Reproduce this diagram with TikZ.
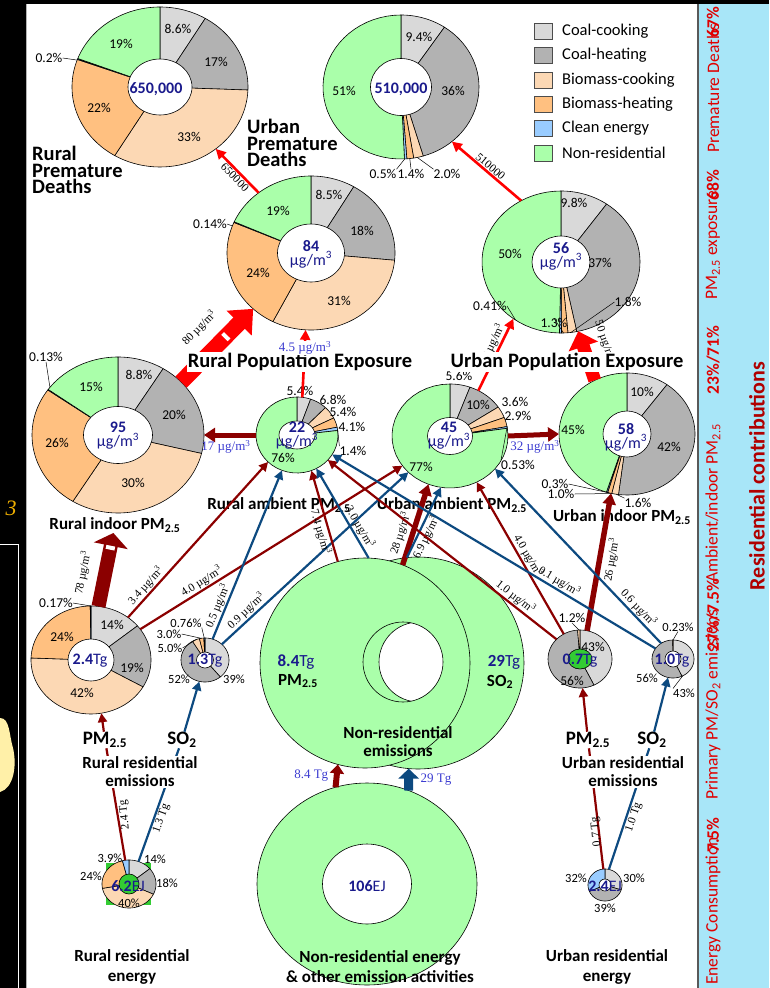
\documentclass[tikz,border=0pt]{standalone}
\usepackage{fontspec}
\setmainfont{Carlito}
\newfontfamily\timesfont{Liberation Serif}
\usepackage{xcolor}
\usepackage{tikz}
\usetikzlibrary{arrows.meta,positioning,shapes.geometric}
\definecolor{ccoalcook}{HTML}{D9D9D9}
\definecolor{ccoalheat}{HTML}{B2B2B2}
\definecolor{cbiocook}{HTML}{FCD8B4}
\definecolor{cbioheat}{HTML}{FFC080}
\definecolor{cclean}{HTML}{99CCFF}
\definecolor{cnonres}{HTML}{AAFFAA}
\definecolor{cgreendot}{HTML}{33CC33}
\definecolor{deepred}{HTML}{8B0000}
\definecolor{deepblue}{HTML}{0D4A80}
\definecolor{cnavy}{HTML}{1A1A8C}
\definecolor{cflowblue}{HTML}{3B3BD0}
\definecolor{cpanel}{HTML}{A8E6F8}
\definecolor{cside}{HTML}{E00000}
\definecolor{cresid}{HTML}{B00000}
\definecolor{cblob}{HTML}{FFF0A8}
\definecolor{cpagenum}{HTML}{F0B000}
\tikzset{
  ring/.style={ellipse, draw=none, inner sep=0pt, outer sep=0pt},
  slice/.style={draw=black, line width=0.6pt, line join=round},
  pct/.style={font=\fontsize{13.5}{13.5}\selectfont, inner sep=0pt},
  pcts/.style={font=\fontsize{12.5}{12.5}\selectfont, inner sep=0pt},
  lead/.style={draw=black, line width=0.5pt},
  val/.style={text=cnavy, font=\fontsize{16}{14}\selectfont, align=center, inner sep=0pt},
  ttl/.style={font=\bfseries\fontsize{20.5}{16.7}\selectfont, align=left, inner sep=0pt},
  sub/.style={font=\bfseries\fontsize{17}{18}\selectfont, align=center, inner sep=0.5pt},
  legtxt/.style={font=\fontsize{16.5}{16.5}\selectfont, inner sep=0pt},
  flowlab/.style={font=\timesfont\fontsize{11.5}{11.5}\selectfont, inner sep=1pt, sloped},
  bluelab/.style={font=\timesfont\fontsize{13}{13}\selectfont, text=cflowblue, inner sep=0.5pt},
  pmline/.style={draw=deepred, line width=2.2pt},
  soline/.style={draw=deepblue, line width=2.2pt},
  pmflow/.style={pmline, -{Triangle[length=9pt,width=9pt]}},
  soflow/.style={soline, -{Triangle[length=9pt,width=9pt]}},
  expflow/.style={draw=red, line width=2.6pt, -{Triangle[length=10pt,width=10pt]}},
  slit/.style={fill=white, inner sep=0pt, minimum width=4pt, minimum height=9pt},
  sidetxt/.style={text=cside, font=\fontsize{17.5}{17.5}\selectfont, inner sep=0pt},
  sidebold/.style={text=cside, font=\bfseries\fontsize{17.5}{17.5}\selectfont, inner sep=0pt}
}
% donut: [inner fill] name, cx, cy, rx, ry, inner rx, inner ry, slices pct/colour
\newcommand{\donut}[9][white]{%
  \gdef\dcum{0}%
  \foreach \pval/\pcol in {#9}{%
    \pgfmathsetmacro\da{-90+3.6*\dcum}%
    \pgfmathsetmacro\db{-90+3.6*(\dcum+\pval)}%
    \filldraw[slice, fill=\pcol] (#3,#4) -- plot[domain=\da:\db, samples=36]
      ({#3+#5*cos(\x)},{#4+#6*sin(\x)}) -- cycle;
    \pgfmathsetmacro\dnew{\dcum+\pval}%
    \global\let\dcum\dnew
  }%
  \filldraw[slice, fill=#1] (#3,#4) ellipse[x radius=#7, y radius=#8];
  \node[ring, minimum width={2*#5}, minimum height={2*#6}] (#2) at (#3,#4) {};
}

\begin{document}
\begin{tikzpicture}[x=1pt, y=-1pt]
\useasboundingbox (0,0) rectangle (769,988);

% page edges
\fill[black] (0,0) rectangle (769,4);
\fill[black] (0,0) rectangle (26,988);
\draw[gray!60, line width=0.8pt] (26.5,4) -- (26.5,988);
\draw[white, line width=1pt] (-1,544) -- (18.5,544) -- (18.5,988);
\fill[cblob] (0,718) .. controls (10,718) and (9,735) .. (13,748) .. controls (17,765) and (14,788) .. (0,792) -- cycle;
\node[text=cpagenum, font=\timesfont\itshape\fontsize{22}{22}\selectfont] (pagenum) at (11,508) {3};

% side panel
\fill[cpanel] (698,4) rectangle (769,988);
\draw[black!65, line width=1.5pt] (698,4) -- (698,988);
\node[sidetxt, rotate=90, anchor=west] (sdeath) at (713,153) {Premature Deaths};
\node[sidebold, rotate=90] (sdeathp) at (713,22) {67\%};
\node[sidetxt, rotate=90, anchor=west] (sexp) at (713,300) {PM\textsubscript{2.5} exposure};
\node[sidebold, rotate=90] (sexpp) at (713,185) {68\%};
\node[sidetxt, rotate=90, anchor=west] (samb) at (713,583) {Ambient/indoor PM\textsubscript{2.5}};
\node[sidebold, rotate=90] (sambp) at (713,360) {23\%/71\%};
\node[sidetxt, rotate=90, anchor=west] (semi) at (713,800) {Primary PM/SO\textsubscript{2} emissions};
\node[sidebold, rotate=90] (semip) at (713,615) {27\%/7.5\%};
\node[sidetxt, rotate=90, anchor=west] (seng) at (713,985) {Energy Consumption};
\node[sidebold, rotate=90] (sengp) at (713,835) {7.5\%};
\node[text=cresid, font=\bfseries\fontsize{22}{22}\selectfont, rotate=90] (resid) at (757,476) {Residential contributions};

% legend
\foreach \lc/\lt [count=\i] in {ccoalcook/Coal-cooking, ccoalheat/Coal-heating, cbiocook/Biomass-cooking,
    cbioheat/Biomass-heating, cclean/Clean energy, cnonres/Non-residential}{
  \filldraw[fill=\lc, draw=black!70, line width=0.6pt] (534,{23+24.4*(\i-1)}) rectangle ++(18,16);
  \node[legtxt, anchor=west] (leg\i) at (562,{31+24.4*(\i-1)}) {\lt};
}

% non-residential rings
\filldraw[slice, fill=cnonres, even odd rule] (367,884) ellipse[x radius=110, y radius=101] (367,884) ellipse[x radius=44.5, y radius=40];
\node[ring, minimum width=220pt, minimum height=202pt] (neng) at (367,884) {};
\filldraw[slice, fill=cnonres, even odd rule] (418,663) circle[radius=106] (419,662) circle[radius=40];
\node[ring, minimum width=212pt, minimum height=212pt] (nrso) at (418,663) {};
\filldraw[slice, fill=cnonres, even odd rule] (365,663) circle[radius=105] (403,662) circle[radius=40];
\node[ring, minimum width=210pt, minimum height=210pt] (nrpm) at (365,663) {};

% donuts
\donut{rdeath}{160}{87}{88}{80}{32}{28}{8.6/ccoalcook, 17/ccoalheat, 33/cbiocook, 22/cbioheat, 0.2/cclean, 19.2/cnonres}
\donut{udeath}{401}{87}{78}{72}{30.5}{28.5}{9.4/ccoalcook, 36/ccoalheat, 2.0/cbiocook, 1.4/cbioheat, 0.5/cclean, 50.7/cnonres}
\donut{rexp}{311}{253}{84}{77}{33.5}{29}{8.5/ccoalcook, 18/ccoalheat, 31/cbiocook, 24/cbioheat, 0.14/cclean, 18.36/cnonres}
\donut{uexp}{561}{262}{79}{71}{29}{26}{9.8/ccoalcook, 37/ccoalheat, 1.8/cbiocook, 1.3/cbioheat, 0.41/cclean, 49.69/cnonres}
\donut{rind}{118}{435}{86}{78}{34.5}{28.5}{8.8/ccoalcook, 20/ccoalheat, 30/cbiocook, 26/cbioheat, 0.13/cclean, 15.07/cnonres}
\donut{ramb}{297}{435}{41}{38}{18}{14}{5.4/ccoalcook, 6.8/ccoalheat, 5.4/cbiocook, 4.1/cbioheat, 1.4/cclean, 76.9/cnonres}
\donut{uamb}{450}{436}{58}{52}{22.5}{18.5}{5.6/ccoalcook, 10/ccoalheat, 3.6/cbiocook, 2.9/cbioheat, 0.53/cclean, 77.37/cnonres}
\donut{uind}{627}{434}{68}{61}{24}{23}{10/ccoalcook, 42/ccoalheat, 1.6/cbiocook, 1.0/cbioheat, 0.3/cclean, 45.1/cnonres}
\donut{rpm}{91}{660}{60}{54}{23}{21}{14.1/ccoalcook, 19.2/ccoalheat, 42.3/cbiocook, 24.2/cbioheat, 0.2/cclean}
\donut{rso}{205}{660}{24}{22}{8.5}{8}{39/ccoalcook, 52.24/ccoalheat, 5.0/cbiocook, 3.0/cbioheat, 0.76/cclean}
\donut[cgreendot]{upm}{580}{659}{32}{29}{12}{10}{42.8/ccoalcook, 56/ccoalheat, 1.2/cbiocook}
\donut{uso}{673}{659}{21}{19}{8}{8}{43/ccoalcook, 56.77/ccoalheat, 0.23/cbiocook}
\fill[cgreendot] (106,863) rectangle (151,905);
\donut[cgreendot]{reng}{129}{884}{27}{24}{10}{10}{14/ccoalcook, 18/ccoalheat, 40.1/cbiocook, 24/cbioheat, 3.9/cclean}
\donut{ueng}{605}{885}{17}{16}{6}{6}{30/ccoalcook, 38.5/ccoalheat, 31.5/cclean}

% percentages
\node[pct] (p1) at (178,29) {8.6\%};
\node[pct] (p2) at (216,62) {17\%};
\node[pct] (p3) at (189,137) {33\%};
\node[pct] (p4) at (99,108) {22\%};
\node[pct] (p5) at (121,44) {19\%};
\node[pct] (p6) at (49,58) {0.2\%};
\draw[lead] (p6.east) -- (rdeath.162);
\node[pct] (p7) at (419,37) {9.4\%};
\node[pct] (p8) at (453,91) {36\%};
\node[pct] (p9) at (344,91) {51\%};
\node[pct] (p10) at (383,174) {0.5\%};
\node[pct] (p11) at (411,174) {1.4\%};
\node[pct] (p12) at (447,174) {2.0\%};
\draw[lead] (p10.north east) -- (udeath.-87);
\draw[lead] (p11.north) -- (udeath.-83);
\draw[lead] (p12.north west) -- (udeath.-77);
\node[pct] (p13) at (329,195) {8.5\%};
\node[pct] (p14) at (362,231) {18\%};
\node[pct] (p15) at (339,301) {31\%};
\node[pct] (p16) at (258,273) {24\%};
\node[pct] (p17) at (278,211) {19\%};
\node[pct] (p18) at (210,224) {0.14\%};
\draw[lead] (p18.east) -- (rexp.161);
\node[pct] (p19) at (574,203) {9.8\%};
\node[pct] (p20) at (600,263) {37\%};
\node[pct] (p21) at (510,254) {50\%};
\node[pct] (p22) at (628,302) {1.8\%};
\node[pct] (p23) at (554,323) {1.3\%};
\node[pct] (p24) at (490,306) {0.41\%};
\draw[lead] (p22.west) -- (uexp.-82);
\draw[lead] (p23.north) -- (uexp.-88);
\draw[lead] (p24.east) -- (uexp.-128);
\node[pct] (p25) at (139,375) {8.8\%};
\node[pct] (p26) at (174,415) {20\%};
\node[pct] (p27) at (133,483) {30\%};
\node[pct] (p28) at (57,443) {26\%};
\node[pct] (p29) at (91,387) {15\%};
\node[pct] (p30) at (46,357) {0.13\%};
\draw[lead] (p30.south) -- (rind.145);
\node[pct] (p31) at (300,391) {5.4\%};
\node[pct] (p32) at (333,400) {6.8\%};
\node[pct] (p33) at (343,412) {5.4\%};
\node[pct] (p34) at (352,427) {4.1\%};
\node[pct] (p35) at (353,451) {1.4\%};
\node[pct] (p36) at (283,458) {76\%};
\draw[lead] (p35.north west) -- (ramb.8);
\node[pct] (p37) at (459,376) {5.6\%};
\node[pct] (p38) at (478,405) {10\%};
\node[pct] (p39) at (515,402) {3.6\%};
\node[pct] (p40) at (518,416) {2.9\%};
\node[pct] (p41) at (518,465) {0.53\%};
\node[pct] (p42) at (421,467) {77\%};
\draw[lead] (p41.north west) -- (uamb.9);
\node[pct] (p43) at (642,392) {10\%};
\node[pct] (p44) at (669,447) {42\%};
\node[pct] (p45) at (573,430) {45\%};
\node[pct] (p46) at (555,484) {0.3\%};
\node[pct] (p47) at (561,494) {1.0\%};
\node[pct] (p48) at (638,503) {1.6\%};
\draw[lead] (p46.east) -- (uind.-107);
\draw[lead] (p47.east) -- (uind.-104);
\draw[lead] (p48.north west) -- (uind.-100);
\node[pct] (p49) at (112,625) {14\%};
\node[pct] (p50) at (132,668) {19\%};
\node[pct] (p51) at (82,693) {42\%};
\node[pct] (p52) at (62,637) {24\%};
\node[pct] (p53) at (56,603) {0.17\%};
\draw[lead] (p53.east) -- (rpm.90);
\node[pcts] (p54) at (186,623) {0.76\%};
\node[pcts] (p55) at (169,634) {3.0\%};
\node[pcts] (p56) at (170,648) {5.0\%};
\node[pcts] (p57) at (179,679) {52\%};
\node[pcts] (p58) at (234,679) {39\%};
\draw[lead] (p54.south east) -- (rso.92);
\draw[lead] (p55.east) -- (rso.100);
\draw[lead] (p56.east) -- (rso.113);
\node[pct] (p59) at (572,618) {1.2\%};
\node[pct] (p60) at (593,647) {43\%};
\node[pct] (p61) at (572,681) {56\%};
\draw[lead] (p59.south) -- (upm.92);
\node[pcts] (p62) at (678,627) {0.23\%};
\node[pcts] (p63) at (647,678) {56\%};
\node[pcts] (p64) at (684,693) {43\%};
\draw[lead] (p62.south) -- (uso.90);
\draw[lead] (p64.north west) -- (uso.-60);
\node[pcts] (p65) at (110,858) {3.9\%};
\node[pcts] (p66) at (155,859) {14\%};
\node[pcts] (p67) at (91,876) {24\%};
\node[pcts] (p68) at (167,883) {18\%};
\node[pcts] (p69) at (129,903) {40\%};
\node[pcts] (p70) at (576,878) {32\%};
\node[pcts] (p71) at (634,878) {30\%};
\node[pcts] (p72) at (605,908) {39\%};

% values in the centres
\node[val] (vrdeath) at (156,89) {\textbf{650,000}};
\node[val] (vudeath) at (401,89) {\textbf{510,000}};
\node[val] (vrexp) at (311,254) {\textbf{84}\\µg/m\textsuperscript{3}};
\node[val] (vuexp) at (561,256) {\textbf{56}\\µg/m\textsuperscript{3}};
\node[val] (vrind) at (118,436) {\textbf{95}\\µg/m\textsuperscript{3}};
\node[val] (vramb) at (297,436) {\textbf{22}\\µg/m\textsuperscript{3}};
\node[val] (vuamb) at (449,436) {\textbf{45}\\µg/m\textsuperscript{3}};
\node[val] (vuind) at (626,437) {\textbf{58}\\µg/m\textsuperscript{3}};
\node[val] (vrpm) at (90,661) {\textbf{2.4}Tg};
\node[val] (vrso) at (205,661) {\textbf{1.3}Tg};
\node[val] (vupm) at (580,661) {\textbf{0.7}Tg};
\node[val] (vuso) at (672,661) {\textbf{1.0}Tg};
\node[val] (vreng) at (128,886) {\textbf{6.2}EJ};
\node[val] (vueng) at (605,886) {\textbf{2.4}EJ};
\node[val] (vneng) at (367,886) {\textbf{106}EJ};
\node[val, font=\fontsize{17}{17}\selectfont] (vnrpm) at (296,662) {\textbf{8.4}Tg};
\node[sub] (tnrpm) at (298,681) {PM\textsubscript{2.5}};
\node[val, font=\fontsize{17}{17}\selectfont] (vnrso) at (504,662) {\textbf{29}Tg};
\node[sub] (tnrso) at (500,682) {SO\textsubscript{2}};
\node[sub, align=center] (nremis) at (398,742) {Non-residential\\emissions};

% titles of the middle row
\node[sub] (tramb) at (279,505) {Rural ambient PM\textsubscript{2.5}};
\node[sub] (tuamb) at (452,505) {Urban ambient PM\textsubscript{2.5}};
\node[sub] (trind) at (115,525) {Rural indoor PM\textsubscript{2.5}};
\node[sub] (tuind) at (622,517) {Urban indoor PM\textsubscript{2.5}};

% primary emissions -> ambient
\draw[pmflow] (rpm.49) -- (ramb.-137) node[flowlab, pos=0.17, above] (l34) {3.4 µg/m\textsuperscript{3}};
\draw[pmflow] (rpm.32) -- (uamb.-148) node[flowlab, pos=0.25, above] (l40r) {4.0 µg/m\textsuperscript{3}};
\draw[soflow] (rso.70) -- (ramb.-113) node[flowlab, pos=0.18, above] (l05) {0.5 µg/m\textsuperscript{3}};
\draw[soflow] (rso.43) -- (uamb.-139) node[flowlab, pos=0.16, above] (l09) {0.9 µg/m\textsuperscript{3}};
\draw[pmflow] (nrpm.105) -- (ramb.-68) node[flowlab, pos=0.35, below] (l74) {7.4 µg/m\textsuperscript{3}};
\draw[soflow] (nrpm.88) -- (ramb.-60) node[flowlab, pos=0.3, above] (l30) {3.0 µg/m\textsuperscript{3}};
\draw[pmflow, line width=5.5pt, -{Triangle[length=11pt,width=13pt]}] (nrpm.69) -- (uamb.-114) node[flowlab, pos=0.35, above=2pt] (l28) {28 µg/m\textsuperscript{3}};
\draw[soflow] (nrso.96) -- (uamb.-100) node[flowlab, pos=0.34, below] (l69) {6.9 µg/m\textsuperscript{3}};
\draw[pmflow] (upm.140) -- (ramb.-39) node[flowlab, pos=0.2, above] (l10) {1.0 µg/m\textsuperscript{3}};
\draw[pmflow] (upm.123) -- (uamb.-60) node[flowlab, pos=0.49, above] (l40u) {4.0 µg/m\textsuperscript{3}};
\draw[pmflow, line width=5.5pt, -{Triangle[length=11pt,width=13pt]}] (upm.76) -- (uind.-105) node[flowlab, pos=0.53, below=2pt] (l26) {26 µg/m\textsuperscript{3}};
\draw[soflow] (uso.149) -- (ramb.-29) node[flowlab, pos=0.31, above] (l01) {0.1 µg/m\textsuperscript{3}};
\draw[soflow] (uso.127) -- (uamb.-36) node[flowlab, pos=0.17, above] (l06) {0.6 µg/m\textsuperscript{3}};

% ambient -> indoor
\draw[pmflow, line width=5pt, -{Triangle[length=11pt,width=14pt]}] (ramb.180) -- (rind.0);
\node[bluelab] (l17) at (226,447) {17 µg/m\textsuperscript{3}};
\draw[pmflow, line width=5pt, -{Triangle[length=11pt,width=14pt]}] (uamb.0) -- (uind.180);
\node[bluelab] (l32) at (535,447) {32 µg/m\textsuperscript{3}};
\draw[draw=deepred, line width=14pt, -{Triangle[length=13pt,width=34pt]}] (rpm.82) -- (trind)
  node[slit, pos=0.8, sloped] (slitr) {} node[flowlab, pos=0.4, above=8pt] (l78) {78 µg/m\textsuperscript{3}};

% exposure and deaths
\draw[expflow] (ramb.82) -- (rexp.-94);
\draw[expflow] (uamb.58) -- (uexp.-130) node[flowlab, pos=0.58, above] (l60) {6.0 µg/m\textsuperscript{3}};
\draw[draw=red, line width=16pt, -{Triangle[length=20pt,width=34pt]}] (rind.40) -- (rexp.-136)
  node[slit, pos=0.62, sloped] (slitx) {} node[flowlab, pos=0.5, above=10pt] (l80) {80 µg/m\textsuperscript{3}};
\draw[draw=red, line width=13pt, -{Triangle[length=16pt,width=30pt]}] (uind.121) -- (uexp.-76)
  node[flowlab, pos=0.65, above=9pt] (l50) {50 µg/m\textsuperscript{3}};
\draw[expflow] (rexp.131) -- (rdeath.-48) node[flowlab, pos=0.45, below] (l650) {650000};
\draw[expflow] (uexp.123) -- (udeath.-47) node[flowlab, pos=0.5, above] (l510) {510000};

% titles
\node[ttl, anchor=west] (trdeath) at (32,170) {Rural\\Premature\\Deaths};
\node[ttl, anchor=west] (tudeath) at (247,143) {Urban\\Premature\\Deaths};
\node[ttl, fill=white, inner sep=1pt] (trexp) at (300,362) {Rural Population Exposure};
\node[ttl, fill=white, inner sep=1pt] (tuexp) at (567,362) {Urban Population Exposure};
\node[bluelab, fill=white] (l45) at (305,348) {4.5 µg/m\textsuperscript{3}};

% residential energy -> emissions
\node[sub, font=\bfseries\fontsize{19}{19}\selectfont] (rpmlab) at (105,740) {PM\textsubscript{2.5}};
\node[sub, font=\bfseries\fontsize{19}{19}\selectfont] (rsolab) at (182,740) {SO\textsubscript{2}};
\node[sub, font=\bfseries\fontsize{19}{19}\selectfont] (upmlab) at (588,740) {PM\textsubscript{2.5}};
\node[sub, font=\bfseries\fontsize{19}{19}\selectfont] (usolab) at (652,740) {SO\textsubscript{2}};
\draw[pmflow] (rpmlab) -- (rpm.-79);
\draw[soflow] (rsolab) -- (rso.-105);
\draw[pmflow] (upmlab) -- (upm.-85);
\draw[soflow] (usolab) -- (uso.-105);
\draw[pmline] (reng.99) -- (rpmlab) node[flowlab, pos=0.4, below, sloped=false, rotate=96] (l24t) {2.4 Tg};
\draw[soline] (reng.67) -- (rsolab) node[flowlab, pos=0.4, below] (l13t) {1.3 Tg};
\draw[pmline] (ueng.96) -- (upmlab) node[flowlab, pos=0.45, left=2pt, sloped=false, rotate=95] (l07t) {0.7 Tg};
\draw[soline] (ueng.76) -- (usolab) node[flowlab, pos=0.45, below] (l10t) {1.0 Tg};
\node[sub, fill=white] (remis) at (140,772) {Rural residential\\emissions};
\node[sub, fill=white] (uemis) at (623,772) {Urban residential\\emissions};

% non-residential energy -> emissions
\draw[draw=deepred, line width=6pt, -{Triangle[length=9pt,width=14pt]}] (neng.108) -- (nrpm.-105)
  node[bluelab, pos=0.5, left=5pt] (l84t) {8.4 Tg};
\draw[draw=deepblue, line width=9pt, -{Triangle[length=10pt,width=20pt]}] (neng.66) -- (nrso.-95)
  node[bluelab, pos=0.5, right=7pt] (l29t) {29 Tg};

% bottom titles
\node[sub, font=\bfseries\fontsize{17}{20}\selectfont] (treng) at (132,967) {Rural residential\\energy};
\node[sub, font=\bfseries\fontsize{17}{20}\selectfont] (tueng) at (607,967) {Urban residential\\energy};
\node[sub, font=\bfseries\fontsize{17}{20}\selectfont] (tneng) at (380,967) {Non-residential energy\\\& other emission activities};
\end{tikzpicture}
\end{document}
